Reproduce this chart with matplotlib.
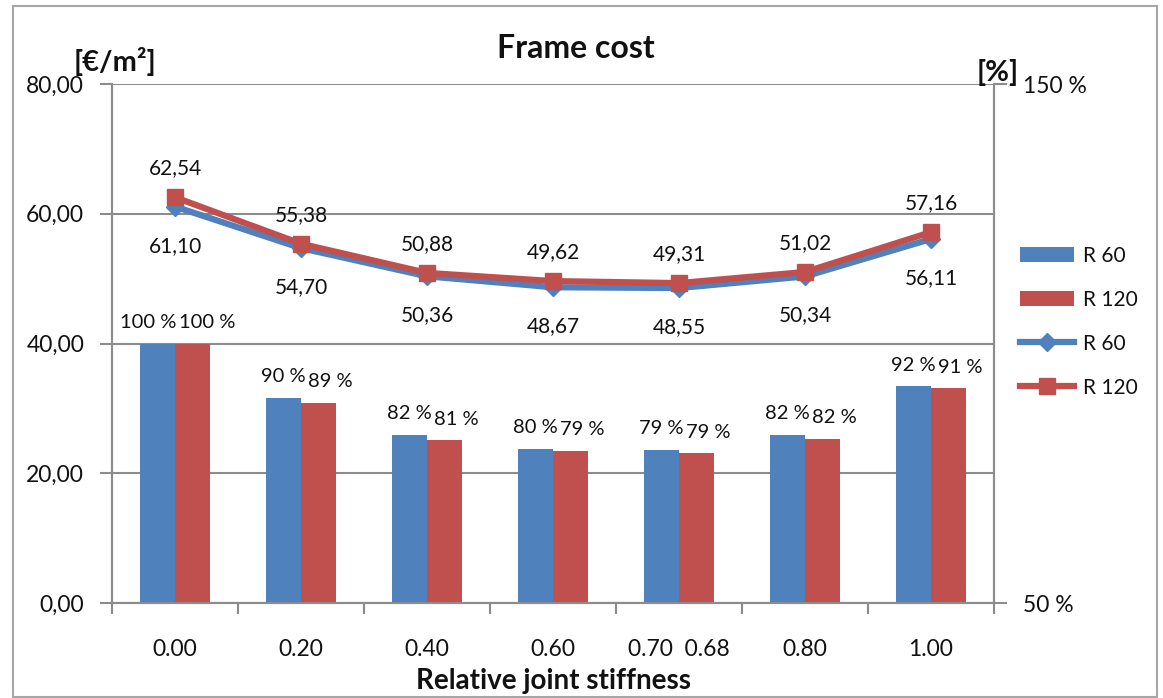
import matplotlib
matplotlib.use("Agg")
import matplotlib.pyplot as plt
from matplotlib.patches import Rectangle
from matplotlib.ticker import FixedLocator, FuncFormatter
import numpy as np

plt.rcParams['font.family'] = ['Lato', 'DejaVu Sans']

categories = ["0.00", "0.20", "0.40", "0.60", "0.70  0.68", "0.80", "1.00"]
cost_r60 = [61.10, 54.70, 50.36, 48.67, 48.55, 50.34, 56.11]
cost_r120 = [62.54, 55.38, 50.88, 49.62, 49.31, 51.02, 57.16]
pct_r60 = [100.0, 89.5, 82.4, 79.7, 79.5, 82.4, 91.8]
pct_r120 = [100.0, 88.6, 81.4, 79.3, 78.9, 81.6, 91.4]
pct_labels_r60 = ["100 %", "90 %", "82 %", "80 %", "79 %", "82 %", "92 %"]
pct_labels_r120 = ["100 %", "89 %", "81 %", "79 %", "79 %", "82 %", "91 %"]

BLUE = "#4F81BD"
RED = "#C0504D"
GRID = "#8C8C8C"
TXT = "#111111"

W, H = 1163, 698
fig = plt.figure(figsize=(W / 100, H / 100), dpi=100)
fig.patch.set_facecolor("white")

# outer border
fig.add_artist(Rectangle((13 / W, 1 - 697 / H), (1157 - 13) / W, (697 - 6) / H,
                         transform=fig.transFigure, fill=False, edgecolor="#A6A6A6", lw=1.5))

left, right, top, bottom = 112, 994, 84, 603
ax = fig.add_axes([left / W, 1 - bottom / H, (right - left) / W, (bottom - top) / H])
ax2 = ax.twinx()

x = np.arange(len(categories))
ax.set_xlim(-0.5, len(categories) - 0.5)
ax.set_ylim(0, 80)
ax2.set_ylim(50, 150)

# left axis
ax.yaxis.set_major_locator(FixedLocator([0, 20, 40, 60, 80]))
ax.yaxis.set_major_formatter(FuncFormatter(lambda v, p: f"{v:.2f}".replace(".", ",")))
ax.grid(axis="y", color=GRID, lw=1.5, zorder=0)
ax.set_axisbelow(True)
ax.tick_params(axis="y", direction="out", length=9, width=1.5, color=GRID,
               labelsize=16.5, labelcolor=TXT, pad=11)

# x axis
ax.set_xticks(x)
ax.set_xticklabels(categories)
ax.set_xticks(np.arange(-0.5, len(categories)), minor=True)
ax.tick_params(axis="x", which="major", length=0, labelsize=16.5, labelcolor=TXT, pad=26)
ax.tick_params(axis="x", which="minor", direction="out", length=8, width=1.5, color=GRID)
ax.set_xlabel("Relative joint stiffness", fontsize=20, fontweight="bold", color=TXT, labelpad=6)

# right axis
ax2.yaxis.set_major_locator(FixedLocator([50, 150]))
ax2.yaxis.set_major_formatter(FuncFormatter(lambda v, p: f"{v:.0f} %"))
ax2.tick_params(axis="y", direction="out", length=9, width=1.5, color=GRID,
                labelsize=16.5, labelcolor=TXT, pad=12)

for a in (ax, ax2):
    for s in ("left", "right", "bottom"):
        a.spines[s].set_color(GRID)
        a.spines[s].set_linewidth(1.5)
    a.spines["top"].set_visible(False)

# bars (percent scale)
bw = 0.278
pr60 = np.array(pct_r60)
pr120 = np.array(pct_r120)
b1 = ax2.bar(x - bw / 2, pr60 - 50, bottom=50, width=bw, color=BLUE, zorder=2, label="R 60")
b2 = ax2.bar(x + bw / 2, pr120 - 50, bottom=50, width=bw, color=RED, zorder=2, label="R 120")
for xi, v, t in zip(x - bw / 2, pr60, pct_labels_r60):
    dx = -9 if len(t) > 4 else 0
    ax2.annotate(t, (xi, v), xytext=(dx, 21), textcoords="offset pixels",
                 ha="center", va="center", fontsize=14.5, color=TXT, zorder=5)
for xi, v, t in zip(x + bw / 2, pr120, pct_labels_r120):
    dx = 15 if len(t) > 4 else 12
    ax2.annotate(t, (xi, v), xytext=(dx, 21), textcoords="offset pixels",
                 ha="center", va="center", fontsize=14.5, color=TXT, zorder=5)

# lines (cost scale), drawn on top of bars
l1, = ax2.plot(x, cost_r60, transform=ax.transData, color=BLUE, lw=4.5,
               marker="D", markersize=9, zorder=3, label="R 60")
l2, = ax2.plot(x, cost_r120, transform=ax.transData, color=RED, lw=4.5,
               marker="s", markersize=11, zorder=4, label="R 120")
for xi, v in zip(x, cost_r120):
    ax2.annotate(f"{v:.2f}".replace(".", ","), (xi, v), xycoords=ax.transData,
                 xytext=(0, 29), textcoords="offset pixels",
                 ha="center", va="center", fontsize=15, color=TXT, zorder=5)
for xi, v in zip(x, cost_r60):
    ax2.annotate(f"{v:.2f}".replace(".", ","), (xi, v), xycoords=ax.transData,
                 xytext=(0, -39), textcoords="offset pixels",
                 ha="center", va="center", fontsize=15, color=TXT, zorder=5)
ax2.set_xlim(-0.5, len(categories) - 0.5)

# titles
fig.text(576 / W, 1 - 48 / H, "Frame cost", ha="center", va="center",
         fontsize=23, fontweight="bold", color=TXT)
fig.text(74 / W, 1 - 62 / H, "[€/m²]", ha="left", va="center",
         fontsize=21, fontweight="bold", color=TXT)
fig.text(977 / W, 1 - 72 / H, "[%]", ha="left", va="center",
         fontsize=21, fontweight="bold", color=TXT)

fig.legend(handles=[b1, b2, l1, l2], labels=["R 60", "R 120", "R 60", "R 120"],
           loc="upper left", bbox_to_anchor=(1001 / W, 1 - 227 / H),
           frameon=False, fontsize=15, labelspacing=1.15, handlelength=2.6,
           handleheight=0.8, handletextpad=0.45, labelcolor=TXT, borderpad=0.4)

fig.savefig("out.png", dpi=100)
